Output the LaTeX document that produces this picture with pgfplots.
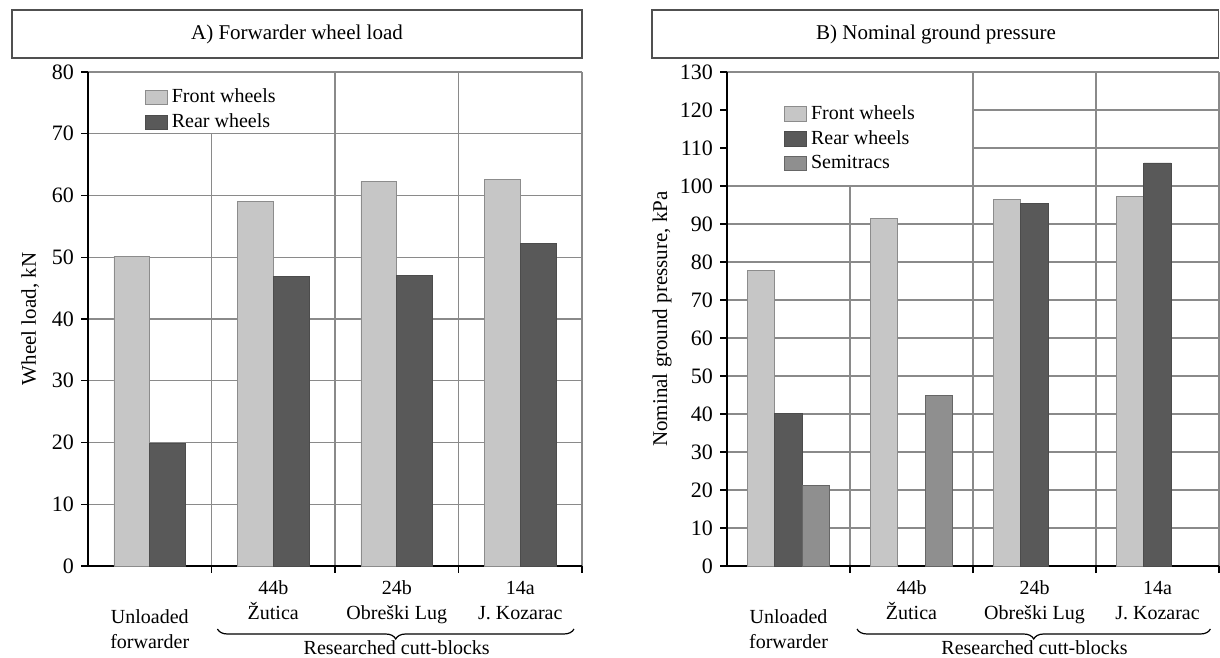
\documentclass[border=0pt]{standalone}
\usepackage{pgfplots}
\pgfplotsset{compat=1.18}
\usepackage{fontspec}
\setmainfont{Liberation Serif}
\usetikzlibrary{decorations.pathreplacing}
\definecolor{frontc}{HTML}{C6C6C6}
\definecolor{rearc}{HTML}{595959}
\definecolor{semic}{HTML}{8F8F8F}
\definecolor{gridc}{HTML}{8A8A8A}
\definecolor{boxc}{HTML}{505050}
\pgfplotsset{
  mybase/.style={
    scale only axis,
    anchor=south west,
    height=247pt,
    xmin=-0.5, xmax=3.5,
    ymin=0,
    axis x line*=bottom,
    axis y line*=left,
    axis line style={-, black, line width=0.8pt},
    xtick={0.5,1.5,2.5,3.5},
    xticklabels={},
    xmajorgrids=true,
    ymajorgrids=true,
    grid style={gridc, line width=0.6pt},
    tick align=outside,
    major tick length=3.5pt,
    tick style={black, line width=0.6pt},
    ticklabel style={font=\fontsize{11}{12}\selectfont},
    /pgf/number format/assume math mode=true,
    extra x ticks={0,1,2,3},
    extra x tick labels={{\strut\\Unloaded\\forwarder},{44b\\Žutica},{24b\\Obreški Lug},{14a\\J. Kozarac}},
    extra x tick style={grid=none, major tick length=0pt, tick style={draw=none},
      xticklabel style={align=center, font=\fontsize{10}{12.5}\selectfont, anchor=north, yshift=-4pt}},
    ybar=0pt,
    clip=false,
    legend cell align=left,
    legend style={draw=none, fill=none, font=\fontsize{10}{11}\selectfont, inner sep=0pt},
    ylabel style={font=\fontsize{10.5}{12}\selectfont},
  }
}
\begin{document}
\begin{tikzpicture}
\path[use as bounding box] (0,0) rectangle (610pt,329pt);
% title boxes
\draw[boxc, line width=0.8pt] (6pt,300pt) rectangle (291pt,324pt);
\node[font=\fontsize{10.5}{12}\selectfont] at (148.5pt,312pt) {A) Forwarder wheel load};
\draw[boxc, line width=0.8pt] (326pt,300pt) rectangle (609.3pt,324pt);
\node[font=\fontsize{10.5}{12}\selectfont] at (468pt,312pt) {B) Nominal ground pressure};

\begin{axis}[mybase, at={(44pt,46pt)}, width=247pt, ymax=80, ytick={0,10,...,80},
  bar width=0.29,
  ylabel={Wheel load, kN}, ylabel style={at={(axis description cs:-0.117,0.5)}, anchor=center},
  legend style={at={(axis description cs:0.115,0.975)}, anchor=north west},
  legend image code/.code={\draw[#1] (0pt,-3.6pt) rectangle (11pt,3.6pt);}]
\fill[white] ([xshift=0.6pt,yshift=0.4pt]axis cs:-0.5,70) rectangle ([xshift=0.6pt,yshift=-0.5pt]axis cs:0.5,80);
\addplot[fill=frontc, draw=black!45, line width=0.3pt] coordinates {(0,50.2) (1,59.1) (2,62.3) (3,62.6)};
\addplot[fill=rearc, draw=black!70, line width=0.3pt] coordinates {(0,19.9) (1,46.9) (2,47.1) (3,52.3)};
\legend{Front wheels, Rear wheels}
\draw[decorate, decoration={brace, mirror, amplitude=5pt}, line width=0.6pt] ([yshift=-31.5pt]axis cs:0.548,0) -- ([yshift=-31.5pt]axis cs:3.435,0);
\node[font=\fontsize{10}{12}\selectfont] at ([yshift=-41pt]axis cs:2,0) {Researched cutt-blocks};
\end{axis}

\begin{axis}[mybase, at={(363.5pt,46pt)}, width=246pt, ymax=130, ytick={0,10,...,130},
  bar width=0.223,
  ylabel={Nominal ground pressure, kPa}, ylabel style={at={(axis description cs:-0.132,0.5)}, anchor=center},
  legend style={at={(axis description cs:0.116,0.941)}, anchor=north west},
  legend image code/.code={\draw[#1] (0pt,-3.6pt) rectangle (11pt,3.6pt);}]
\fill[white] ([xshift=0.6pt,yshift=0.4pt]axis cs:-0.5,100) rectangle ([xshift=-0.4pt,yshift=-0.5pt]axis cs:1.5,130);
\addplot[fill=frontc, draw=black!45, line width=0.3pt] coordinates {(0,77.8) (1,91.5) (2,96.5) (3,97.2)};
\addplot[fill=rearc, draw=black!70, line width=0.3pt] coordinates {(0,40.1) (2,95.4) (3,106.1)};
\addplot[fill=semic, draw=black!60, line width=0.3pt] coordinates {(0,21.2) (1,44.8)};
\legend{Front wheels, Rear wheels, Semitracs}
\draw[decorate, decoration={brace, mirror, amplitude=5pt}, line width=0.6pt] ([yshift=-31.5pt]axis cs:0.557,0) -- ([yshift=-31.5pt]axis cs:3.43,0);
\node[font=\fontsize{10}{12}\selectfont] at ([yshift=-41pt]axis cs:2,0) {Researched cutt-blocks};
\end{axis}
\end{tikzpicture}
\end{document}
